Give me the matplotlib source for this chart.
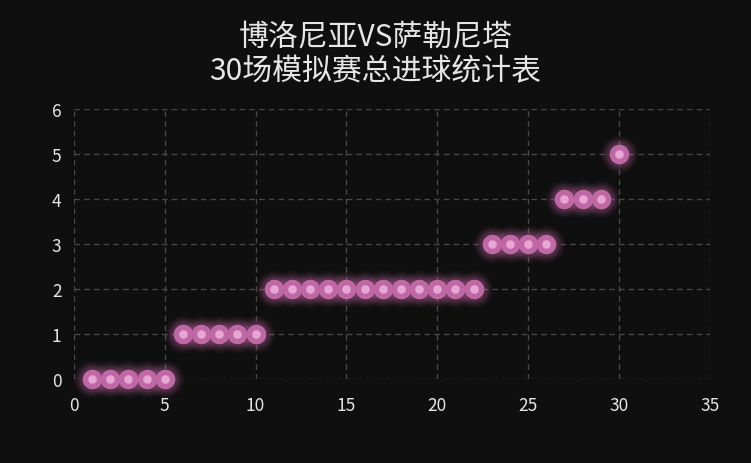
import numpy as np
import matplotlib.pyplot as plt

plt.rcParams['font.family'] = ['Noto Sans CJK SC', 'DejaVu Sans']

# match index and total goals
matches = list(range(1, 31))
goals = [0, 0, 0, 0, 0,
         1, 1, 1, 1, 1,
         2, 2, 2, 2, 2, 2, 2, 2, 2, 2, 2, 2,
         3, 3, 3, 3,
         4, 4, 4,
         5]
title = "博洛尼亚VS萨勒尼塔\n30场模拟赛总进球统计表"

bg = '#0f0f0f'
fig = plt.figure(figsize=(7.51, 4.64), dpi=100, facecolor=bg)
ax = fig.add_axes([0.0985, 0.181, 0.8465, 0.582], facecolor=bg)

# soft glow behind the points
for size, alpha in [(720, 0.05), (580, 0.07), (460, 0.10), (340, 0.14)]:
    ax.scatter(matches, goals, s=size, color='#c46ba8', alpha=alpha,
               linewidths=0, zorder=3, clip_on=False)
ax.scatter(matches, goals, s=200, color='#bf68a5', linewidths=0, zorder=4,
           clip_on=False)
ax.scatter(matches, goals, s=38, color='#e6a8d2', linewidths=0, zorder=5,
           clip_on=False)

ax.set_xlim(0, 35)
ax.set_ylim(0, 6)
ax.set_xticks(range(0, 36, 5))
ax.set_yticks(range(0, 7))
ax.grid(True, color='#474747', linestyle=(0, (4, 3)), linewidth=1)
ax.set_axisbelow(True)
for s in ax.spines.values():
    s.set_visible(False)
ax.tick_params(colors='#e6e6e6', labelsize=12.5, length=0)
ax.tick_params(axis='x', pad=12)
ax.tick_params(axis='y', pad=9)

fig.text(0.5, 1 - 54 / 464, title, color='#e6e6e6', fontsize=21.5,
         ha='center', va='center', linespacing=1.15)

plt.savefig('out.png', dpi=100, facecolor=bg)
